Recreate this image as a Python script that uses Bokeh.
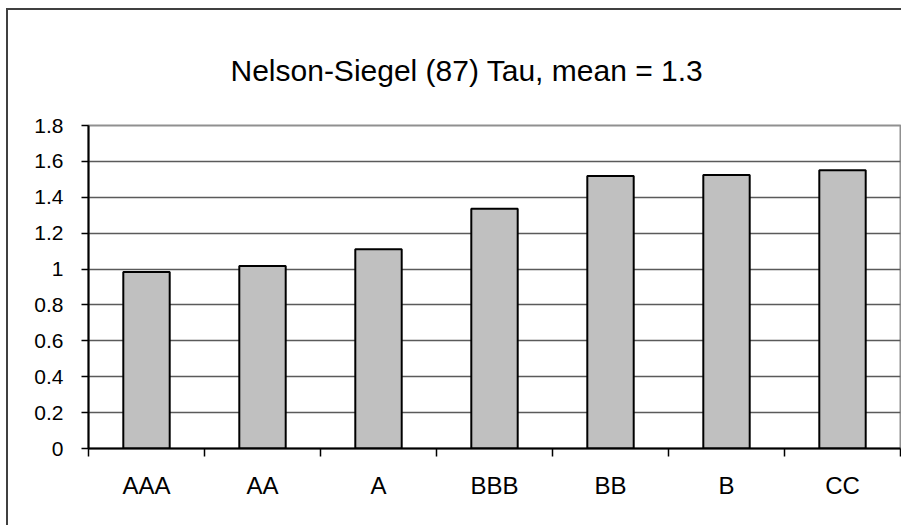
from bokeh.plotting import figure
from bokeh.models import Range1d, LinearAxis, FixedTicker
from bokeh.embed import file_html
from bokeh.resources import INLINE

# ---- data ----
categories = ["AAA", "AA", "A", "BBB", "BB", "B", "CC"]
tau_values = [0.983, 1.017, 1.111, 1.336, 1.518, 1.524, 1.551]
y_ticks = [0, 0.2, 0.4, 0.6, 0.8, 1.0, 1.2, 1.4, 1.6, 1.8]
y_tick_labels = ["0", "0.2", "0.4", "0.6", "0.8", "1", "1.2", "1.4", "1.6", "1.8"]
title_text = "Nelson-Siegel (87) Tau, mean = 1.3"

FONT = "Liberation Sans"

n = len(categories)
centers = [i + 0.5 for i in range(n)]      # category slot centres
bounds = list(range(n + 1))                # category slot boundaries

p = figure(width=895, height=517, output_backend="svg", toolbar_location=None,
           x_range=Range1d(0, n), y_range=Range1d(0, 1.8),
           x_axis_location=None,
           min_border_left=80, min_border_right=3,
           min_border_top=115, min_border_bottom=79,
           title=title_text)

p.styles = {"margin-left": "6px", "margin-top": "8px",
            "border-left": "2px solid #404040", "border-top": "2px solid #404040"}

p.title.align = "left"
p.title.offset = 142
p.title.text_font = FONT
p.title.text_font_size = "30px"
p.title.text_font_style = "normal"
p.title.text_color = "black"
p.title.vertical_align = "bottom"
p.title.standoff = 78

p.outline_line_color = "#909090"
p.outline_line_width = 2
p.xgrid.visible = False
p.ygrid.ticker = FixedTicker(ticks=y_ticks)
p.ygrid.grid_line_color = "#5a5a5a"
p.ygrid.grid_line_width = 1.5

p.vbar(x=centers, top=tau_values, width=0.4, bottom=0,
       fill_color="#C0C0C0", line_color="black", line_width=2)

# y axis
ya = p.yaxis[0]
ya.ticker = FixedTicker(ticks=y_ticks)
ya.major_label_overrides = {t: lab for t, lab in zip(y_ticks, y_tick_labels)}
ya.axis_line_color = "black"
ya.axis_line_width = 2
ya.major_tick_line_color = "black"
ya.major_tick_line_width = 1.5
ya.major_tick_out = 7
ya.major_tick_in = 0
ya.minor_tick_line_color = None
ya.major_label_text_font = FONT
ya.major_label_text_font_size = "21px"
ya.major_label_text_color = "black"
ya.major_label_standoff = 18

# boundary ticks on x axis
xa_ticks = LinearAxis(ticker=FixedTicker(ticks=bounds),
                      major_label_overrides={t: "" for t in bounds})
xa_ticks.axis_line_color = "black"
xa_ticks.axis_line_width = 2
xa_ticks.major_tick_line_color = "black"
xa_ticks.major_tick_line_width = 1.5
xa_ticks.major_tick_out = 8
xa_ticks.major_tick_in = 0
xa_ticks.minor_tick_line_color = None
xa_ticks.major_label_standoff = 0
xa_ticks.major_label_text_font_size = "1px"
p.add_layout(xa_ticks, "below")

# category labels
xa = LinearAxis(ticker=FixedTicker(ticks=centers),
                major_label_overrides={c: lab for c, lab in zip(centers, categories)})
xa.axis_line_color = None
xa.major_tick_line_color = None
xa.minor_tick_line_color = None
xa.major_tick_out = 0
xa.major_tick_in = 0
xa.major_label_text_font = FONT
xa.major_label_text_font_size = "24px"
xa.major_label_text_color = "black"
xa.major_label_standoff = 15
p.add_layout(xa, "below")

open("out.html", "w").write(file_html(p, INLINE))
